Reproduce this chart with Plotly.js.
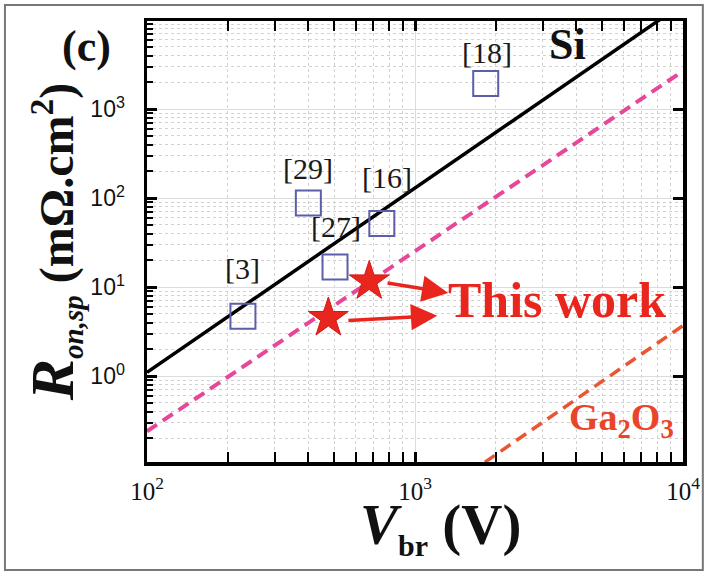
<!DOCTYPE html>
<html>
<head>
<meta charset="utf-8">
<script src="https://cdn.plot.ly/plotly-3.0.1.min.js"></script>
<style>html,body{margin:0;padding:0;background:#fff;}#chart{width:708px;height:575px;}</style>
</head>
<body>
<div id="chart"></div>
<script>
// ---- data ----
var refLabels = ['[3]', '[29]', '[27]', '[16]', '[18]'];
var refVbr = [228, 400, 503, 752, 1836];
var refRon = [4.7, 88, 16.8, 52, 1940];

var thisVbr = [475, 675];
var thisRon = [4.5, 11.6];

var siVbr = [100, 10000];
var siRon = [1.1, 15300];

var pinkVbr = [100, 10000];
var pinkRon = [0.24, 2680];

var gaVbr = [1824, 10000];
var gaRon = [0.108, 3.7];

var xTickVals = [100, 1000, 10000];
var xTickText = ['10<sup>2</sup>', '10<sup>3</sup>', '10<sup>4</sup>'];
var yTickVals = [1, 10, 100, 1000];
var yTickText = ['10<sup>0</sup>', '10<sup>1</sup>', '10<sup>2</sup>', '10<sup>3</sup>'];

// arrows: tail (near star) -> head (near text)
var arrowTailV = [780, 557];
var arrowTailR = [11.2, 4.2];
var arrowHeadV = [1330, 1210];
var arrowHeadR = [8.6, 4.78];

// ---- styling / helpers ----
var SERIF = 'Liberation Serif, Times New Roman, serif';
var SANS = 'Liberation Sans, Arial, sans-serif';
var RED = '#e8261e';

function minorVals(lo, hi) {
  var out = [];
  for (var d = lo; d < hi; d++) {
    for (var m = 2; m <= 9; m++) out.push(m * Math.pow(10, d));
  }
  return out;
}
var L = Math.log10;

var traces = [
  {x: siVbr, y: siRon, mode: 'lines', line: {color: '#000', width: 3.5}, hoverinfo: 'skip'},
  {x: pinkVbr, y: pinkRon, mode: 'lines', line: {color: '#e6479b', width: 4, dash: '12px,7px'}, hoverinfo: 'skip'},
  {x: gaVbr, y: gaRon, mode: 'lines', line: {color: '#ea5532', width: 3.5, dash: '12px,7px'}, hoverinfo: 'skip'},
  {x: refVbr, y: refRon, mode: 'markers', text: refLabels,
   marker: {symbol: 'square-open', size: 25, color: '#5b5ea8', line: {width: 2, color: '#5b5ea8'}}},
  {x: thisVbr, y: thisRon, mode: 'markers',
   marker: {symbol: 'star', size: 30, color: RED, line: {width: 1, color: '#d01a14'}}},
  {x: [], y: [], yaxis: 'y2', mode: 'markers', hoverinfo: 'skip'}
];

var labelShift = [[0, 48], [0, 35], [1, 41], [5, 46], [1, 31]];
var annotations = [];
for (var i = 0; i < refLabels.length; i++) {
  annotations.push({
    x: L(refVbr[i]), y: L(refRon[i]), xref: 'x', yref: 'y', text: refLabels[i], showarrow: false,
    xanchor: 'center', yanchor: 'middle',
    xshift: labelShift[i][0], yshift: labelShift[i][1],
    font: {family: SERIF, size: 30, color: '#1a1a1a'}
  });
}
for (var j = 0; j < arrowTailV.length; j++) {
  annotations.push({
    x: L(arrowHeadV[j]), y: L(arrowHeadR[j]), xref: 'x', yref: 'y',
    ax: L(arrowTailV[j]), ay: L(arrowTailR[j]), axref: 'x', ayref: 'y',
    text: '', showarrow: true, arrowhead: 2, arrowsize: 1.5, arrowwidth: 3.5, arrowcolor: RED
  });
}
function paperNote(text, px, py, size, color, extra) {
  var a = {xref: 'paper', yref: 'paper', x: (px - 147) / 536, y: (462 - py) / 441,
    xanchor: 'center', yanchor: 'middle', text: text, showarrow: false,
    font: {family: SERIF, size: size, color: color, weight: 'bold'}};
  return Object.assign(a, extra || {});
}
annotations.push(paperNote('This work', 557, 300, 50, RED));
annotations.push(paperNote('Ga<sub>2</sub>O<sub>3</sub>', 621, 420, 38, '#e8452a'));
annotations.push(paperNote('Si', 567, 45, 44, '#111'));
annotations.push(paperNote('(c)', 86, 46, 44, '#111'));
// x-axis title (placed as in the reference, slightly right of centre)
annotations.push(paperNote('<i>V</i><sub><span style="font-size:30px">br</span></sub> (V)', 440, 527, 57, '#111', {borderpad: 0}));

var axisCommon = {
  type: 'log', showline: true, linecolor: '#000', linewidth: 3.5,
  ticks: 'inside', ticklen: 10, tickwidth: 3, tickcolor: '#000',
  showgrid: true, gridcolor: '#dcdcdc', gridwidth: 1, zeroline: false
};

var layout = {
  width: 708, height: 575,
  margin: {l: 147, r: 25, t: 21, b: 113},
  paper_bgcolor: '#fff', plot_bgcolor: '#fff',
  showlegend: false,
  xaxis: Object.assign({}, axisCommon, {
    range: [2, 4], mirror: 'allticks',
    tickmode: 'array', tickvals: xTickVals, ticktext: xTickText,
    tickfont: {family: SERIF, size: 25, color: '#111'}, ticklabelstandoff: 4,
    minor: {tickmode: 'array', tickvals: minorVals(2, 4), ticks: 'inside', ticklen: 6, tickwidth: 2, tickcolor: '#000',
            showgrid: true, gridcolor: '#d2d2d2', griddash: 'dot', gridwidth: 1}
  }),
  yaxis: Object.assign({}, axisCommon, {
    range: [-0.965, 3.99], mirror: false,
    tickmode: 'array', tickvals: yTickVals, ticktext: yTickText,
    tickfont: {family: SANS, size: 23, color: '#111'}, ticklabelstandoff: 14,
    minor: {tickmode: 'array', tickvals: minorVals(-1, 4), ticks: 'inside', ticklen: 6, tickwidth: 2, tickcolor: '#000',
            showgrid: true, gridcolor: '#d2d2d2', griddash: 'dot', gridwidth: 1},
    title: {text: '<span style="font-size:62px"><i>R</i></span><sub><span style="font-size:29px"><i>on,sp</i></span></sub> (mΩ.cm<sup>2</sup>)', standoff: 2,
            font: {family: SERIF, size: 48, color: '#111', weight: 'bold'}}
  }),
  yaxis2: {
    type: 'log', overlaying: 'y', side: 'right', anchor: 'x', range: [-0.965, 3.99],
    showline: true, linecolor: '#000', linewidth: 3.5,
    ticks: 'inside', ticklen: 10, tickwidth: 3, tickcolor: '#000',
    tickmode: 'array', tickvals: yTickVals, showticklabels: false, showgrid: false, zeroline: false
  },
  annotations: annotations,
  shapes: [{type: 'rect', xref: 'paper', yref: 'paper', x0: -0.265, x1: 1.037, y0: -0.245, y1: 1.036,
            line: {color: '#777', width: 2}, fillcolor: 'rgba(0,0,0,0)', layer: 'above'}]
};

Plotly.newPlot('chart', traces, layout, {displayModeBar: false, staticPlot: true});
</script>
</body>
</html>
